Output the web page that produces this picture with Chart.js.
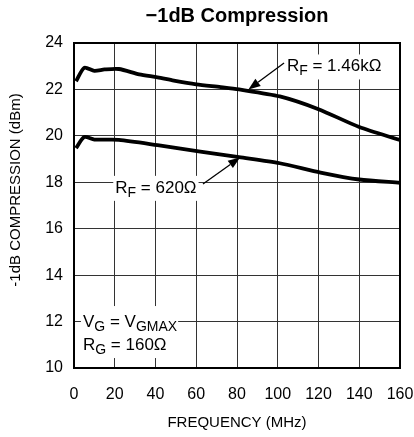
<!DOCTYPE html>
<html>
<head>
<meta charset="utf-8">
<script src="https://cdn.jsdelivr.net/npm/chart.js@4.4.1/dist/chart.umd.min.js"></script>
<style>
html,body{margin:0;padding:0;background:#fff;}
#wrap{width:414px;height:437px;position:relative;}
</style>
</head>
<body>
<div id="wrap"><canvas id="c" width="414" height="437"></canvas></div>
<script>
// ---- data ----
const freqUpper = [1, 5, 10, 15, 22, 32, 41, 49, 60, 72, 81, 101, 120, 140, 160];
const compUpper = [22.35, 22.93, 22.80, 22.86, 22.88, 22.65, 22.52, 22.38, 22.22, 22.10, 22.00, 21.70, 21.15, 20.38, 19.82];
const freqLower = [1, 5, 10, 22, 41, 62, 81, 101, 121, 140, 160];
const compLower = [19.47, 19.95, 19.84, 19.83, 19.60, 19.32, 19.08, 18.82, 18.42, 18.12, 17.98];
const xTicks = [0, 20, 40, 60, 80, 100, 120, 140, 160];
const yTicks = [10, 12, 14, 16, 18, 20, 22, 24];
const chartTitle = "\u22121dB Compression";
const xTitle = "FREQUENCY (MHz)";
const yTitle = "-1dB COMPRESSION (dBm)";

const FONT = "'Liberation Sans', Arial, sans-serif";
const ANN = 17;

function toXY(xs, ys){ return xs.map((x,i)=>({x:x, y:ys[i]})); }

function richWidth(ctx, parts, size){
  const sub = Math.round(size*0.8); let w = 0;
  parts.forEach(p=>{ ctx.font = (p[1]?sub:size)+"px "+FONT; w += ctx.measureText(p[0]).width; });
  return w;
}
function drawRich(ctx, parts, x, y, size, align){
  const sub = Math.round(size*0.8);
  const w = richWidth(ctx, parts, size);
  let cx = align==='center' ? x - w/2 : x;
  ctx.textBaseline = 'middle'; ctx.textAlign = 'left';
  parts.forEach(p=>{
    ctx.font = (p[1]?sub:size)+"px "+FONT;
    ctx.fillText(p[0], cx, p[1] ? y+5 : y);
    cx += ctx.measureText(p[0]).width;
  });
}

function arrow(ctx, x1, y1, x2, y2){
  ctx.save();
  ctx.strokeStyle = '#000'; ctx.fillStyle = '#000'; ctx.lineWidth = 1.3;
  const ang = Math.atan2(y2-y1, x2-x1);
  const L = 12, W = 4.5;
  const bx = x2 - L*Math.cos(ang), by = y2 - L*Math.sin(ang);
  ctx.beginPath(); ctx.moveTo(x1,y1); ctx.lineTo(bx,by); ctx.stroke();
  ctx.beginPath();
  ctx.moveTo(x2,y2);
  ctx.lineTo(bx + W*Math.sin(ang), by - W*Math.cos(ang));
  ctx.lineTo(bx - W*Math.sin(ang), by + W*Math.cos(ang));
  ctx.closePath(); ctx.fill();
  ctx.restore();
}

const L146 = [["R",false],["F",true],[" = 1.46k\u03A9",false]];
const L620 = [["R",false],["F",true],[" = 620\u03A9",false]];
const LVG = [["V",false],["G",true],[" = V",false],["GMAX",true]];
const LRG = [["R",false],["G",true],[" = 160\u03A9",false]];

const annot = {
  id: 'annot',
  beforeDatasetsDraw(chart){
    const ctx = chart.ctx, xs = chart.scales.x, ys = chart.scales.y;
    ctx.save();
    ctx.fillStyle = '#fff';
    // 1.46k label box
    let x0 = xs.getPixelForValue(104.5), y0 = ys.getPixelForValue(22.99);
    ctx.fillRect(x0 - 2, y0 - 12, richWidth(ctx, L146, ANN) + 4, 25);
    // 620 label box
    const cx = xs.getPixelForValue(40.2), cy = ys.getPixelForValue(17.76);
    const w = richWidth(ctx, L620, ANN);
    ctx.fillRect(cx - w/2 - 2, cy - 12, w + 4, 25);
    // VG / RG box
    const lx = xs.getPixelForValue(4.4);
    const y1 = ys.getPixelForValue(11.98);
    ctx.fillRect(lx - 2, y1 - 16, richWidth(ctx, LVG, ANN) + 3, 52);
    ctx.restore();
  },
  afterDatasetsDraw(chart){
    const ctx = chart.ctx, xs = chart.scales.x, ys = chart.scales.y, a = chart.chartArea;
    ctx.save();
    ctx.strokeStyle = '#000'; ctx.lineWidth = 2;
    ctx.strokeRect(a.left, a.top, a.right-a.left, a.bottom-a.top);
    ctx.fillStyle = '#000';
    ctx.font = "bold 20px "+FONT; ctx.textAlign='center'; ctx.textBaseline='middle';
    ctx.fillText(chartTitle, (a.left+a.right)/2, 16);
    ctx.font = "15px "+FONT;
    ctx.fillText(xTitle, (a.left+a.right)/2, 423);
    ctx.save(); ctx.translate(16, 190); ctx.rotate(-Math.PI/2);
    ctx.fillText(yTitle, 0, 0); ctx.restore();

    drawRich(ctx, L146, xs.getPixelForValue(104.5), ys.getPixelForValue(22.99), ANN, 'left');
    arrow(ctx, xs.getPixelForValue(103.1), ys.getPixelForValue(23.14), xs.getPixelForValue(85.6), ys.getPixelForValue(22.0));

    drawRich(ctx, L620, xs.getPixelForValue(40.2), ys.getPixelForValue(17.76), ANN, 'center');
    arrow(ctx, xs.getPixelForValue(63.3), ys.getPixelForValue(17.93), xs.getPixelForValue(81.5), ys.getPixelForValue(19.07));

    const lx = xs.getPixelForValue(4.4);
    drawRich(ctx, LVG, lx, ys.getPixelForValue(11.98), ANN, 'left');
    drawRich(ctx, LRG, lx, ys.getPixelForValue(10.99), ANN, 'left');
    ctx.restore();
  }
};

new Chart(document.getElementById('c'), {
  type: 'line',
  data: {
    datasets: [
      { data: toXY(freqUpper, compUpper), borderColor:'#000', borderWidth:3.8, pointRadius:0, tension:0.25, fill:false },
      { data: toXY(freqLower, compLower), borderColor:'#000', borderWidth:3.8, pointRadius:0, tension:0.25, fill:false }
    ]
  },
  options: {
    responsive:false, animation:false, devicePixelRatio:1,
    layout:{ padding:{ top:43, right:14, left:0, bottom:0 } },
    plugins:{ legend:{display:false}, tooltip:{enabled:false}, title:{display:false} },
    scales:{
      x:{
        type:'linear', min:0, max:160,
        afterBuildTicks: s => { s.ticks = xTicks.map(v=>({value:v})); },
        afterFit: s => { s.height = 69; s.paddingLeft = 0; s.paddingRight = 0; },
        grid:{ color:'#333', lineWidth:1, drawTicks:false },
        border:{ display:false },
        ticks:{ padding:17, color:'#000', maxRotation:0, font:{ family:FONT, size:16 } }
      },
      y:{
        type:'linear', min:10, max:24,
        afterBuildTicks: s => { s.ticks = yTicks.map(v=>({value:v})); },
        afterFit: s => { s.width = 74; s.paddingTop = 0; s.paddingBottom = 0; },
        grid:{ color:'#333', lineWidth:1, drawTicks:false },
        border:{ display:false },
        ticks:{ padding:11, color:'#000', font:{ family:FONT, size:16 } }
      }
    }
  },
  plugins:[annot]
});
</script>
</body>
</html>
